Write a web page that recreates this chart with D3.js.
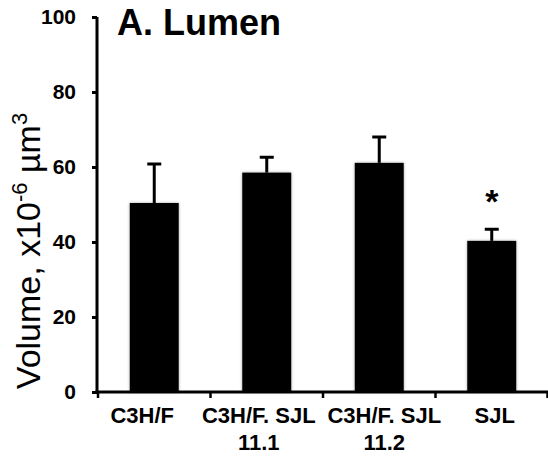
<!DOCTYPE html>
<html>
<head>
<meta charset="utf-8">
<script src="https://cdn.jsdelivr.net/npm/d3@7"></script>
<style>
  body { margin: 0; background: #fff; }
  svg { display: block; font-family: Arial, "Liberation Sans", sans-serif; }
</style>
</head>
<body>
<div id="chart"></div>
<script>
// data
const categories = ['C3H/F', 'C3H/F. SJL\n11.1', 'C3H/F. SJL\n11.2', 'SJL'];
const means = [50.4, 58.5, 61.1, 40.3];
const errors = [10.4, 4.1, 6.9, 3.1];
const significant = [false, false, false, true];
const yTicks = [0, 20, 40, 60, 80, 100];

const width = 548, height = 459;
const plotLeft = 98, plotRight = 548, plotTop = 17, plotBottom = 392;

const svg = d3.select('#chart').append('svg')
  .attr('width', width)
  .attr('height', height);

// soft shadow round the bars
const defs = svg.append('defs');
defs.append('filter')
  .attr('id', 'shade')
  .attr('x', '-20%').attr('y', '-20%').attr('width', '140%').attr('height', '140%')
  .append('feDropShadow')
  .attr('dx', 0).attr('dy', 0)
  .attr('stdDeviation', 1.6)
  .attr('flood-color', '#000')
  .attr('flood-opacity', 0.35);

const pad = 0.565;
const x = d3.scaleBand()
  .domain(categories)
  .range([plotLeft, plotRight])
  .paddingInner(pad)
  .paddingOuter(pad / 2);

const y = d3.scaleLinear()
  .domain([0, 100])
  .range([plotBottom, plotTop]);

const rows = categories.map((c, i) => ({ c, m: means[i], e: errors[i], sig: significant[i] }));

// bars
svg.append('g').selectAll('rect')
  .data(rows)
  .join('rect')
  .attr('x', d => x(d.c))
  .attr('y', d => y(d.m))
  .attr('width', x.bandwidth())
  .attr('height', d => y(0) - y(d.m))
  .attr('fill', '#000')
  .attr('filter', 'url(#shade)');

// error bars (upper only)
const eb = svg.append('g').attr('stroke', '#000').attr('stroke-width', 3);
eb.selectAll('line.v')
  .data(rows)
  .join('line')
  .attr('class', 'v')
  .attr('x1', d => x(d.c) + x.bandwidth() / 2)
  .attr('x2', d => x(d.c) + x.bandwidth() / 2)
  .attr('y1', d => y(d.m))
  .attr('y2', d => y(d.m + d.e));
eb.selectAll('line.cap')
  .data(rows)
  .join('line')
  .attr('class', 'cap')
  .attr('x1', d => x(d.c) + x.bandwidth() / 2 - 7)
  .attr('x2', d => x(d.c) + x.bandwidth() / 2 + 7)
  .attr('y1', d => y(d.m + d.e))
  .attr('y2', d => y(d.m + d.e));

// significance mark
svg.append('g').selectAll('text')
  .data(rows.filter(d => d.sig))
  .join('text')
  .attr('x', d => x(d.c) + x.bandwidth() / 2)
  .attr('y', d => y(d.m + d.e) - 16)
  .attr('text-anchor', 'middle')
  .attr('font-size', 34)
  .attr('font-weight', 'bold')
  .text('*');

// y axis
const yAxis = svg.append('g')
  .attr('transform', `translate(${plotLeft - 1},0)`)
  .call(d3.axisLeft(y).tickValues(yTicks).tickSize(5).tickPadding(16));
yAxis.select('.domain').attr('stroke-width', 3).attr('d', `M0,${plotTop}V${plotBottom + 1.5}`);
yAxis.selectAll('.tick line').attr('stroke-width', 3);
yAxis.selectAll('.tick text')
  .attr('font-size', 21)
  .attr('font-weight', 'bold')
  .attr('font-family', 'Arial, "Liberation Sans", sans-serif')
  .attr('fill', '#000');

// x axis: line with ticks on category boundaries
const xg = svg.append('g');
xg.append('line')
  .attr('x1', plotLeft - 2.5).attr('x2', plotRight)
  .attr('y1', plotBottom).attr('y2', plotBottom)
  .attr('stroke', '#000').attr('stroke-width', 3);
const bounds = categories.map(c => x(c) - x.step() * x.paddingOuter()).concat([plotRight - 0.5]);
xg.selectAll('line.tick')
  .data(bounds)
  .join('line')
  .attr('class', 'tick')
  .attr('x1', d => d).attr('x2', d => d)
  .attr('y1', plotBottom).attr('y2', plotBottom + 6)
  .attr('stroke', '#000').attr('stroke-width', 2.5);

// category labels (nudged as in the original)
const nudge = [-12, -8, 5, 3];
const lab = xg.selectAll('text')
  .data(categories)
  .join('text')
  .attr('text-anchor', 'middle')
  .attr('font-size', 22)
  .attr('font-weight', 'bold')
  .attr('transform', (d, i) => `translate(${x(d) + x.bandwidth() / 2 + nudge[i]},423)`);
lab.selectAll('tspan')
  .data(d => d.split('\n'))
  .join('tspan')
  .attr('x', 0)
  .attr('dy', (d, i) => i === 0 ? 0 : 27)
  .text(d => d);

// title
svg.append('text')
  .attr('x', 117)
  .attr('y', 35)
  .attr('font-size', 36)
  .attr('font-weight', 'bold')
  .text('A. Lumen');

// y axis title
const yt = svg.append('text')
  .attr('transform', 'translate(40,251) rotate(-90)')
  .attr('text-anchor', 'middle')
  .attr('font-size', 34);
yt.append('tspan').text('Volume, x10');
yt.append('tspan').attr('font-size', 22).attr('dy', -13).text('-6');
yt.append('tspan').attr('dy', 13).text(' µm');
yt.append('tspan').attr('font-size', 22).attr('dy', -13).text('3');
</script>
</body>
</html>
